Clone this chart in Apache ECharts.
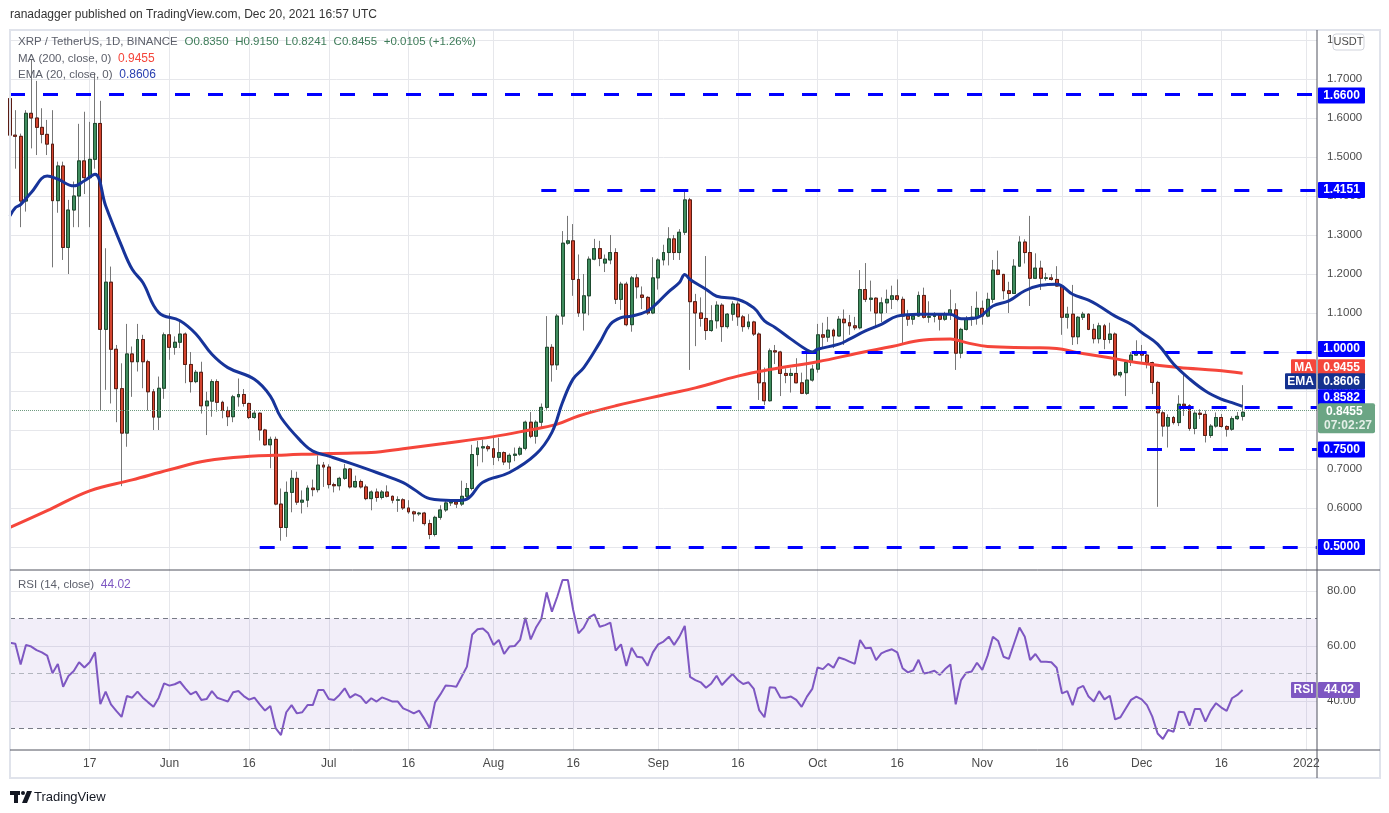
<!DOCTYPE html>
<html lang="en">
<head>
<meta charset="UTF-8">
<title>XRP / TetherUS, 1D, BINANCE</title>
<script src="https://cdn.jsdelivr.net/npm/echarts@6/dist/echarts.min.js"></script>
<style>
  html, body { margin: 0; padding: 0; background: #ffffff; }
  #chart { width: 1389px; height: 813px; }
</style>
</head>
<body>
<div id="chart"></div>
<script>
  // daily candles from 2021-05-02 to 2021-12-20, one line per month
  const opens = [
    1.65,1.556,1.553,1.387,1.612,1.60,1.576,1.558,1.533,1.388,1.477,1.268,1.364,1.40,1.49,1.447,1.494,1.586,1.058,1.179,1.007,0.906,0.792,0.995,0.975,1.032,0.975,0.898,0.833,0.907,
    1.044,1.012,1.025,1.046,0.968,0.924,0.948,0.862,0.874,0.924,0.871,0.85,0.834,0.885,0.891,0.868,0.832,0.843,0.80,0.762,0.776,0.61,0.55,0.64,0.676,0.615,0.62,0.651,0.647,0.71,
    0.705,0.66,0.657,0.676,0.70,0.654,0.668,0.654,0.624,0.641,0.627,0.641,0.63,0.62,0.621,0.60,0.59,0.585,0.587,0.56,0.532,0.576,0.595,0.613,0.615,0.61,0.63,0.65,0.737,0.754,0.757,
    0.752,0.73,0.742,0.718,0.735,0.738,0.753,0.82,0.784,0.82,0.858,1.012,0.967,1.092,1.279,1.285,1.186,1.10,1.144,1.238,1.265,1.228,1.236,1.255,1.135,1.174,1.07,1.19,1.146,1.14,1.10,
    1.19,1.236,1.255,1.29,1.255,1.307,1.39,1.129,1.10,1.086,1.055,1.08,1.12,1.065,1.097,1.123,1.09,1.065,1.077,1.046,0.921,0.875,1.003,1.0,0.945,0.94,0.945,0.921,0.894,0.928,
    0.956,1.044,1.038,1.056,1.041,1.084,1.075,1.067,1.062,1.16,1.135,1.138,1.10,1.126,1.135,1.144,1.135,1.092,1.084,1.092,1.145,1.089,1.091,1.094,1.084,1.097,1.108,0.997,1.058,1.084,1.089,
    1.112,1.092,1.135,1.21,1.199,1.157,1.15,1.22,1.282,1.255,1.189,1.215,1.189,1.19,1.186,1.169,1.089,1.097,1.039,1.089,1.097,1.058,1.034,1.067,1.032,1.046,0.941,0.947,0.973,0.992,
    1.001,0.992,0.973,0.922,0.844,0.81,0.832,0.819,0.866,0.862,0.804,0.843,0.84,0.786,0.81,0.832,0.809,0.802,0.829,0.835
  ];
  const highs = [
    1.67,1.62,1.56,1.62,1.75,1.695,1.625,1.595,1.62,1.488,1.488,1.39,1.437,1.585,1.616,1.59,1.715,1.644,1.266,1.219,1.018,0.971,1.072,1.014,1.072,1.044,0.98,0.905,0.937,1.05,
    1.10,1.04,1.078,1.05,1.0,0.954,0.975,0.898,0.93,0.93,0.875,0.86,0.89,0.932,0.905,0.87,0.85,0.845,0.803,0.783,0.783,0.65,0.668,0.697,0.693,0.645,0.658,0.673,0.735,0.718,
    0.712,0.665,0.68,0.713,0.702,0.683,0.673,0.66,0.645,0.65,0.646,0.658,0.632,0.63,0.625,0.62,0.593,0.59,0.59,0.57,0.58,0.607,0.62,0.622,0.62,0.67,0.664,0.762,0.772,0.775,0.762,
    0.784,0.78,0.745,0.74,0.755,0.758,0.824,0.846,0.825,0.868,1.092,1.02,1.097,1.31,1.349,1.328,1.25,1.20,1.245,1.29,1.285,1.25,1.30,1.266,1.18,1.18,1.195,1.20,1.168,1.143,1.243,
    1.24,1.275,1.32,1.30,1.315,1.414,1.395,1.149,1.14,1.246,1.12,1.13,1.125,1.10,1.13,1.13,1.095,1.097,1.08,1.05,0.96,1.009,1.018,1.003,0.958,0.958,0.984,0.947,0.997,0.967,
    1.072,1.075,1.09,1.06,1.092,1.109,1.095,1.09,1.21,1.228,1.183,1.14,1.14,1.16,1.17,1.186,1.142,1.108,1.10,1.155,1.165,1.13,1.102,1.095,1.103,1.16,1.125,1.062,1.092,1.118,1.155,
    1.132,1.152,1.236,1.26,1.20,1.18,1.238,1.297,1.289,1.349,1.253,1.234,1.203,1.20,1.22,1.172,1.116,1.172,1.092,1.103,1.099,1.072,1.075,1.072,1.075,1.05,0.95,0.98,1.0,1.03,
    1.018,0.995,0.975,0.926,0.851,0.84,0.836,0.889,0.943,0.866,0.848,0.853,0.85,0.815,0.845,0.841,0.812,0.835,0.846,0.915
  ];
  const lows = [
    1.53,1.47,1.32,1.36,1.522,1.505,1.535,1.505,1.217,1.357,1.236,1.20,1.32,1.32,1.405,1.32,1.47,0.851,0.903,0.868,0.82,0.656,0.757,0.885,0.95,0.907,0.85,0.80,0.80,0.88,
    0.98,0.993,1.01,0.92,0.896,0.92,0.842,0.787,0.834,0.847,0.83,0.81,0.82,0.86,0.86,0.828,0.828,0.773,0.76,0.702,0.607,0.516,0.526,0.589,0.608,0.586,0.602,0.63,0.64,0.654,
    0.65,0.64,0.645,0.672,0.65,0.652,0.65,0.62,0.594,0.616,0.622,0.627,0.612,0.59,0.595,0.585,0.565,0.58,0.555,0.52,0.527,0.57,0.59,0.605,0.60,0.605,0.623,0.645,0.707,0.717,0.745,
    0.71,0.72,0.71,0.70,0.72,0.734,0.748,0.779,0.765,0.806,0.852,0.924,0.954,1.07,1.275,1.144,1.09,1.055,1.094,1.235,1.22,1.205,1.225,1.123,1.108,1.066,1.052,1.137,1.11,1.095,1.097,
    1.16,1.222,1.222,1.236,1.236,1.30,0.954,1.015,1.065,1.031,1.052,1.06,1.026,1.06,1.08,1.067,1.052,1.058,1.041,0.877,0.864,0.873,0.969,0.887,0.92,0.896,0.92,0.892,0.89,0.924,
    0.947,1.01,1.026,1.01,1.04,1.018,1.044,1.056,1.058,1.128,1.104,1.065,1.077,1.10,1.11,1.13,1.02,1.067,1.07,1.09,1.086,1.075,1.076,1.055,1.08,1.082,0.954,0.984,1.055,1.067,1.07,
    1.07,1.089,1.126,1.197,1.135,1.10,1.149,1.219,1.227,1.118,1.187,1.159,1.183,1.183,1.168,1.044,1.06,1.018,1.02,1.082,1.056,1.022,1.022,1.007,1.022,0.937,0.935,0.887,0.964,0.99,
    0.975,0.958,0.892,0.603,0.783,0.755,0.814,0.81,0.836,0.798,0.789,0.828,0.768,0.78,0.806,0.806,0.783,0.798,0.826,0.8241
  ];
  const closes = [
    1.556,1.553,1.387,1.612,1.60,1.576,1.558,1.533,1.388,1.477,1.268,1.364,1.40,1.49,1.447,1.494,1.586,1.058,1.179,1.007,0.906,0.792,0.995,0.975,1.032,0.975,0.898,0.833,0.907,1.044,
    1.012,1.025,1.046,0.968,0.924,0.948,0.862,0.874,0.924,0.871,0.85,0.834,0.885,0.891,0.868,0.832,0.843,0.80,0.762,0.776,0.61,0.55,0.64,0.676,0.615,0.62,0.651,0.647,0.71,0.705,
    0.66,0.657,0.676,0.70,0.654,0.668,0.654,0.624,0.641,0.627,0.641,0.63,0.62,0.621,0.60,0.59,0.585,0.587,0.56,0.532,0.576,0.595,0.613,0.615,0.61,0.63,0.65,0.737,0.754,0.757,0.752,
    0.73,0.742,0.718,0.735,0.738,0.753,0.82,0.784,0.82,0.858,1.012,0.967,1.092,1.279,1.285,1.186,1.10,1.144,1.238,1.265,1.24,1.238,1.255,1.135,1.174,1.07,1.19,1.167,1.14,1.10,1.19,
    1.236,1.255,1.29,1.255,1.307,1.39,1.129,1.10,1.086,1.055,1.08,1.12,1.065,1.097,1.123,1.09,1.065,1.077,1.046,0.921,0.875,1.003,1.0,0.945,0.94,0.945,0.921,0.894,0.928,0.956,
    1.044,1.038,1.056,1.041,1.084,1.075,1.067,1.062,1.16,1.135,1.138,1.10,1.126,1.135,1.144,1.135,1.092,1.084,1.092,1.145,1.089,1.091,1.094,1.084,1.097,1.108,0.997,1.058,1.084,1.089,1.112,
    1.092,1.135,1.21,1.199,1.157,1.15,1.22,1.282,1.255,1.189,1.215,1.189,1.19,1.186,1.169,1.089,1.097,1.039,1.089,1.097,1.058,1.034,1.067,1.032,1.046,0.941,0.947,0.973,0.992,1.001,
    0.992,0.973,0.922,0.844,0.81,0.832,0.819,0.866,0.862,0.804,0.843,0.84,0.786,0.81,0.832,0.809,0.802,0.829,0.835,0.8455
  ];
  const rsiValues = [
    61.2,60.8,53.3,60.4,59.8,58.5,57.7,56.5,50.1,53.5,45.2,49.1,50.9,54.1,52.2,54.1,57.7,38.9,43.4,38.8,36.4,34.2,41.8,41.2,43.4,41.2,39.5,37.9,41.2,46.4,
    45.6,46.1,47.0,44.6,42.4,43.4,40.4,40.7,43.6,41.2,40.5,39.8,43.2,43.6,41.8,40.5,41.2,38.8,36.5,38.2,30.1,27.6,35.9,38.5,35.5,35.9,38.5,38.5,44.0,44.0,
    40.7,40.4,42.2,44.6,41.2,42.5,41.6,39.2,41.0,39.8,41.3,40.6,39.8,39.8,37.3,36.5,35.5,36.5,33.5,30.1,39.5,42.4,45.6,45.5,45.2,48.8,52.5,64.2,66.1,66.4,64.6,
    60.4,62.2,57.1,59.8,60.0,62.2,70.3,62.4,66.7,69.8,79.5,72.5,77.9,84.0,84.0,73.1,64.6,66.7,70.4,71.5,67.0,67.6,68.5,58.3,60.6,52.7,59.4,56.1,55.8,52.8,57.7,
    60.6,61.6,63.4,60.4,63.4,67.3,48.8,47.6,46.8,44.8,46.4,49.2,45.8,47.9,49.8,47.6,46.2,46.8,44.4,36.7,34.1,45.0,44.8,41.3,41.2,41.6,40.4,37.9,41.6,44.4,
    52.2,51.6,53.5,52.1,55.8,55.2,54.3,53.5,62.2,59.2,59.4,54.9,57.3,58.2,58.8,57.7,51.9,50.4,51.2,55.0,50.0,50.4,51.0,49.5,51.6,53.3,38.8,47.6,50.3,50.7,53.9,
    51.3,56.5,63.4,61.8,56.1,55.3,61.0,66.7,63.4,54.9,57.1,54.3,54.3,54.1,52.1,42.8,43.6,38.5,44.6,45.5,41.6,39.8,43.6,40.6,41.9,33.3,34.1,37.3,40.4,41.6,
    40.6,38.5,34.3,28.2,26.2,29.5,28.8,36.1,35.9,31.0,37.1,37.1,32.5,36.5,39.2,37.6,36.4,41.0,42.2,44.02
  ];

  // MA(200) and EMA(20) at these dates
  const maDates = ['2021-05-02','2021-05-09','2021-05-17','2021-05-25','2021-06-01','2021-06-08','2021-06-17','2021-06-23',
    '2021-07-01','2021-07-09','2021-07-15','2021-07-23','2021-08-01','2021-08-07','2021-08-13','2021-08-17','2021-08-24',
    '2021-09-03','2021-09-08','2021-09-16','2021-09-22','2021-10-01','2021-10-09','2021-10-15','2021-10-21','2021-10-26',
    '2021-10-29','2021-11-02','2021-11-10','2021-11-15','2021-11-19','2021-11-25','2021-11-30','2021-12-08','2021-12-15','2021-12-20'];
  const maValues = [0.55,0.593,0.644,0.672,0.698,0.721,0.733,0.736,
    0.74,0.742,0.752,0.766,0.783,0.798,0.815,0.836,0.862,
    0.893,0.908,0.938,0.955,0.975,0.998,1.014,1.031,1.033,
    1.024,1.014,1.011,1.009,0.998,0.985,0.973,0.96,0.953,0.9455];
  const emaDates = ['2021-05-02','2021-05-03','2021-05-04','2021-05-06','2021-05-09','2021-05-11','2021-05-14','2021-05-16',
    '2021-05-18','2021-05-20','2021-05-23','2021-05-25','2021-05-27','2021-05-30','2021-06-03','2021-06-06','2021-06-09',
    '2021-06-12','2021-06-17','2021-06-20','2021-06-22','2021-06-26','2021-06-28','2021-07-01','2021-07-05','2021-07-10',
    '2021-07-15','2021-07-17','2021-07-20','2021-07-23','2021-07-25','2021-07-27','2021-07-30','2021-08-04','2021-08-09',
    '2021-08-12','2021-08-14','2021-08-16','2021-08-18','2021-08-21','2021-08-23','2021-08-25','2021-08-27','2021-08-30',
    '2021-09-01','2021-09-03','2021-09-05','2021-09-06','2021-09-07','2021-09-10','2021-09-12','2021-09-16','2021-09-19',
    '2021-09-21','2021-09-23','2021-09-26','2021-09-29','2021-09-30','2021-10-01','2021-10-05','2021-10-07','2021-10-10',
    '2021-10-13','2021-10-16','2021-10-20','2021-10-26','2021-10-28','2021-10-31','2021-11-03','2021-11-06','2021-11-09',
    '2021-11-12','2021-11-15','2021-11-18','2021-11-21','2021-11-23','2021-11-26','2021-11-29','2021-12-01','2021-12-04',
    '2021-12-07','2021-12-10','2021-12-13','2021-12-16','2021-12-18','2021-12-20'];
  const emaValues = [1.349,1.37,1.378,1.409,1.451,1.443,1.426,1.439,
    1.456,1.375,1.272,1.212,1.178,1.101,1.08,1.046,0.994,
    0.96,0.93,0.887,0.832,0.768,0.746,0.733,0.715,0.691,
    0.665,0.648,0.624,0.62,0.619,0.623,0.666,0.691,0.738,
    0.794,0.871,0.931,0.96,1.024,1.071,1.088,1.092,1.105,
    1.128,1.155,1.178,1.199,1.186,1.161,1.143,1.135,1.113,
    1.08,1.063,1.033,1.005,1.0,1.007,1.02,1.033,1.054,
    1.071,1.092,1.097,1.097,1.085,1.088,1.118,1.131,1.157,
    1.171,1.174,1.148,1.133,1.118,1.092,1.071,1.05,1.02,
    0.969,0.931,0.9,0.879,0.87,0.8606];

  // horizontal drawn levels and where each starts
  const levelValues = [1.66, 1.4151, 1.0, 0.8582, 0.75, 0.5];
  const levelStarts = ['2021-05-02', '2021-08-10', '2021-09-28', '2021-09-12', '2021-12-02', '2021-06-18'];
  const lastPrice = 0.8455;

  const tickDates = ['2021-05-17','2021-06-01','2021-06-16','2021-07-01','2021-07-16','2021-08-01','2021-08-16','2021-09-01',
    '2021-09-16','2021-10-01','2021-10-16','2021-11-01','2021-11-16','2021-12-01','2021-12-16','2022-01-01'];
  const tickLabels = ['17','Jun','16','Jul','16','Aug','16','Sep','16','Oct','16','Nov','16','Dec','16','2022'];
  const priceTicks = [0.5,0.6,0.7,0.8,0.9,1.0,1.1,1.2,1.3,1.4,1.5,1.6,1.7,1.8];
  const rsiTicks = [40, 60, 80];

  // category days, 2021-05-02 .. 2022-01-03
  const dates = [];
  for (let t = Date.UTC(2021, 4, 2); t <= Date.UTC(2022, 0, 3); t += 86400000) {
    dates.push(new Date(t).toISOString().slice(0, 10));
  }
  const lastDate = dates[dates.length - 1];
  const tickMap = {};
  tickDates.forEach((d, i) => { tickMap[d] = tickLabels[i]; });
  const isTick = (idx, val) => tickMap[val] !== undefined;

  const FONT = 'Liberation Sans';
  const UP = '#3f8c5e', DOWN = '#d4442f';

  const wickData = opens.map((o, i) => [o, closes[i], lows[i], highs[i]]);
  const bodyData = opens.map((o, i) => [o, closes[i], Math.min(o, closes[i]), Math.max(o, closes[i])]);

  const chart = echarts.init(document.getElementById('chart'));

  const xCommon = {
    type: 'category',
    data: dates,
    boundaryGap: false,
    axisLine: {show: false},
    axisTick: {show: false},
    splitLine: {show: true, interval: isTick, lineStyle: {color: '#e6e7eb', width: 1}}
  };

  let option = {
    animation: false,
    backgroundColor: '#ffffff',
    grid: [
      {left: 10, right: 72, top: 30, height: 540},
      {left: 10, right: 72, top: 570, height: 180}
    ],
    xAxis: [
      Object.assign({}, xCommon, {gridIndex: 0, axisLabel: {show: false}}),
      Object.assign({}, xCommon, {
        gridIndex: 1,
        axisLabel: {
          show: true, interval: isTick, margin: 8,
          color: '#4a4a4a', fontSize: 12, fontFamily: FONT,
          formatter: v => tickMap[v] || ''
        }
      })
    ],
    yAxis: [
      {
        type: 'value', gridIndex: 0, position: 'right',
        min: 0.441, max: 1.8256,
        axisLine: {show: false},
        axisTick: {show: false, customValues: priceTicks},
        axisLabel: {
          customValues: priceTicks, margin: 10,
          color: '#4a4a4a', fontSize: 11.5, fontFamily: FONT,
          formatter: v => v.toFixed(4)
        },
        splitLine: {show: true, lineStyle: {color: '#e6e7eb', width: 1}}
      },
      {
        type: 'value', gridIndex: 1, position: 'right',
        min: 22.18, max: 87.64,
        axisLine: {show: false},
        axisTick: {show: false, customValues: rsiTicks},
        axisLabel: {
          customValues: rsiTicks, margin: 10,
          color: '#4a4a4a', fontSize: 11.5, fontFamily: FONT,
          formatter: v => v.toFixed(2)
        },
        splitLine: {show: true, lineStyle: {color: '#e6e7eb', width: 1}}
      }
    ],
    series: [
      {
        name: 'wicks', type: 'candlestick', xAxisIndex: 0, yAxisIndex: 0,
        data: wickData, barWidth: 3.4, z: 2,
        itemStyle: {color: UP, color0: DOWN, borderColor: '#777777', borderColor0: '#777777', borderWidth: 1}
      },
      {
        name: 'bodies', type: 'candlestick', xAxisIndex: 0, yAxisIndex: 0,
        data: bodyData, barWidth: 3.4, z: 3,
        itemStyle: {color: UP, color0: DOWN, borderColor: '#1d4a2e', borderColor0: '#5a1c12', borderWidth: 1},
        markLine: {
          silent: true, symbol: 'none', label: {show: false},
          lineStyle: {color: '#6f9a80', type: 'dotted', width: 1},
          data: [{yAxis: lastPrice}]
        }
      },
      {
        name: 'MA', type: 'line', xAxisIndex: 0, yAxisIndex: 0, z: 4,
        data: maDates.map((d, i) => [d, maValues[i]]),
        smooth: 0.4, showSymbol: false,
        lineStyle: {color: '#f5463b', width: 3}
      },
      {
        name: 'EMA', type: 'line', xAxisIndex: 0, yAxisIndex: 0, z: 5,
        data: emaDates.map((d, i) => [d, emaValues[i]]),
        smooth: 0.4, showSymbol: false,
        lineStyle: {color: '#17349a', width: 3},
        markLine: {
          silent: true, symbol: 'none', label: {show: false},
          lineStyle: {color: '#0000ff', type: [15, 18], width: 3},
          data: levelValues.map((v, i) => [{coord: [levelStarts[i], v]}, {coord: [lastDate, v]}])
        }
      },
      {
        name: 'RSI', type: 'line', xAxisIndex: 1, yAxisIndex: 1, z: 4,
        data: rsiValues, showSymbol: false,
        lineStyle: {color: '#7e57c2', width: 2},
        markArea: {
          silent: true,
          itemStyle: {color: 'rgba(126, 87, 194, 0.1)'},
          data: [[{yAxis: 70}, {yAxis: 30}]]
        },
        markLine: {
          silent: true, symbol: 'none', label: {show: false},
          data: [
            {yAxis: 70, lineStyle: {color: '#787b86', type: [5, 4], width: 1}},
            {yAxis: 50, lineStyle: {color: '#b2b5be', type: [5, 4], width: 1}},
            {yAxis: 30, lineStyle: {color: '#787b86', type: [5, 4], width: 1}}
          ]
        }
      }
    ]
  };
  chart.setOption(option);

  // price tags on the right scale
  const yPrice = v => chart.convertToPixel({yAxisIndex: 0}, v);
  const yRsi = v => chart.convertToPixel({yAxisIndex: 1}, v);
  const axisX = 1318;
  const g = [];

  function tag(y, text, fill, prefix, prefixW) {
    g.push({type: 'rect', z: 100, shape: {x: axisX, y: y - 8, width: 47, height: 16, r: 1}, style: {fill: fill}});
    g.push({type: 'text', z: 101, style: {x: axisX + 23.5, y: y, text: text, fill: '#ffffff',
      font: 'bold 12px ' + FONT, align: 'center', verticalAlign: 'middle'}});
    if (prefix) {
      g.push({type: 'rect', z: 100, shape: {x: axisX - 2 - prefixW, y: y - 8, width: prefixW, height: 16, r: 1}, style: {fill: fill}});
      g.push({type: 'text', z: 101, style: {x: axisX - 2 - prefixW / 2, y: y, text: prefix, fill: '#ffffff',
        font: 'bold 12px ' + FONT, align: 'center', verticalAlign: 'middle'}});
    }
  }

  tag(yPrice(1.66) + 1, '1.6600', '#0000ff');
  tag(yPrice(1.4151), '1.4151', '#0000ff');
  tag(yPrice(1.0) - 3, '1.0000', '#0000ff');
  tag(yPrice(maValues[maValues.length - 1]) - 6, maValues[maValues.length - 1].toFixed(4), '#f5463b', 'MA', 25);
  tag(yPrice(emaValues[emaValues.length - 1]) - 25, emaValues[emaValues.length - 1].toFixed(4), '#14318f', 'EMA', 31);
  tag(yPrice(0.8582) - 10, '0.8582', '#0000ff');
  tag(yPrice(0.75), '0.7500', '#0000ff');
  tag(yPrice(0.5), '0.5000', '#0000ff');

  // last price with countdown
  const yl = yPrice(lastPrice) + 6;
  g.push({type: 'rect', z: 100, shape: {x: axisX, y: yl - 15, width: 57, height: 30, r: 2}, style: {fill: '#6ba584'}});
  g.push({type: 'text', z: 101, style: {x: axisX + 8, y: yl - 7, text: lastPrice.toFixed(4), fill: '#ffffff',
    font: 'bold 12px ' + FONT, verticalAlign: 'middle'}});
  g.push({type: 'text', z: 101, style: {x: axisX + 6, y: yl + 7, text: '07:02:27', fill: '#e4efe7',
    font: 'bold 12px ' + FONT, verticalAlign: 'middle'}});

  // RSI tag
  const yr = yRsi(rsiValues[rsiValues.length - 1]);
  g.push({type: 'rect', z: 100, shape: {x: 1291, y: yr - 8, width: 25, height: 16, r: 1}, style: {fill: '#7e57c2'}});
  g.push({type: 'text', z: 101, style: {x: 1303.5, y: yr, text: 'RSI', fill: '#ffffff', font: 'bold 12px ' + FONT,
    align: 'center', verticalAlign: 'middle'}});
  g.push({type: 'rect', z: 100, shape: {x: axisX, y: yr - 8, width: 42, height: 16, r: 1}, style: {fill: '#7e57c2'}});
  g.push({type: 'text', z: 101, style: {x: axisX + 21, y: yr, text: rsiValues[rsiValues.length - 1].toFixed(2),
    fill: '#ffffff', font: 'bold 12px ' + FONT, align: 'center', verticalAlign: 'middle'}});

  // currency button
  g.push({type: 'rect', z: 100, shape: {x: 1333, y: 34, width: 31, height: 16, r: 3},
    style: {fill: '#ffffff', stroke: '#d1d4dc', lineWidth: 1}});
  g.push({type: 'text', z: 101, style: {x: 1348.5, y: 42, text: 'USDT', fill: '#4a4a4a', font: '11px ' + FONT,
    align: 'center', verticalAlign: 'middle'}});

  // frame and pane separators
  g.push({type: 'rect', z: 90, shape: {x: 10, y: 30, width: 1370, height: 748}, style: {fill: 'none', stroke: '#e0e3eb', lineWidth: 2}});
  g.push({type: 'line', z: 91, shape: {x1: 1317, y1: 30, x2: 1317, y2: 778}, style: {stroke: '#50535e', lineWidth: 1}});
  g.push({type: 'line', z: 91, shape: {x1: 10, y1: 570, x2: 1380, y2: 570}, style: {stroke: '#50535e', lineWidth: 1}});
  g.push({type: 'line', z: 91, shape: {x1: 10, y1: 750, x2: 1380, y2: 750}, style: {stroke: '#50535e', lineWidth: 1}});

  // header and legends
  g.push({type: 'text', z: 101, style: {x: 10, y: 15, text: 'ranadagger published on TradingView.com, Dec 20, 2021 16:57 UTC',
    fill: '#333333', font: '12px ' + FONT, verticalAlign: 'middle'}});
  const legendRich = {
    a: {fill: '#5d606b', fontSize: 11.5, fontFamily: FONT},
    g: {fill: '#3d7b58', fontSize: 11.5, fontFamily: FONT},
    r: {fill: '#f5463b', fontSize: 12, fontFamily: FONT},
    b: {fill: '#2a40b0', fontSize: 12, fontFamily: FONT},
    p: {fill: '#7e57c2', fontSize: 12, fontFamily: FONT}
  };
  g.push({type: 'text', z: 101, style: {x: 18, y: 42, verticalAlign: 'middle', rich: legendRich,
    text: '{a|XRP / TetherUS, 1D, BINANCE}  {g|O0.8350}  {g|H0.9150}  {g|L0.8241}  {g|C0.8455}  {g|+0.0105 (+1.26%)}'}});
  g.push({type: 'text', z: 101, style: {x: 18, y: 59, verticalAlign: 'middle', rich: legendRich,
    text: '{a|MA (200, close, 0)}  {r|' + maValues[maValues.length - 1].toFixed(4) + '}'}});
  g.push({type: 'text', z: 101, style: {x: 18, y: 75, verticalAlign: 'middle', rich: legendRich,
    text: '{a|EMA (20, close, 0)}  {b|' + emaValues[emaValues.length - 1].toFixed(4) + '}'}});
  g.push({type: 'text', z: 101, style: {x: 18, y: 585, verticalAlign: 'middle', rich: legendRich,
    text: '{a|RSI (14, close)}  {p|' + rsiValues[rsiValues.length - 1].toFixed(2) + '}'}});

  // TradingView logo
  g.push({type: 'rect', z: 101, shape: {x: 10, y: 791, width: 10, height: 4}, style: {fill: '#131722'}});
  g.push({type: 'rect', z: 101, shape: {x: 14, y: 791, width: 4, height: 12}, style: {fill: '#131722'}});
  g.push({type: 'circle', z: 101, shape: {cx: 23, cy: 793, r: 2}, style: {fill: '#131722'}});
  g.push({type: 'polygon', z: 101, shape: {points: [[27, 791], [32, 791], [27, 803], [22, 803]]}, style: {fill: '#131722'}});
  g.push({type: 'text', z: 101, style: {x: 34, y: 797, text: 'TradingView', fill: '#131722', font: '13px ' + FONT,
    verticalAlign: 'middle'}});

  chart.setOption({graphic: g});
</script>
</body>
</html>
